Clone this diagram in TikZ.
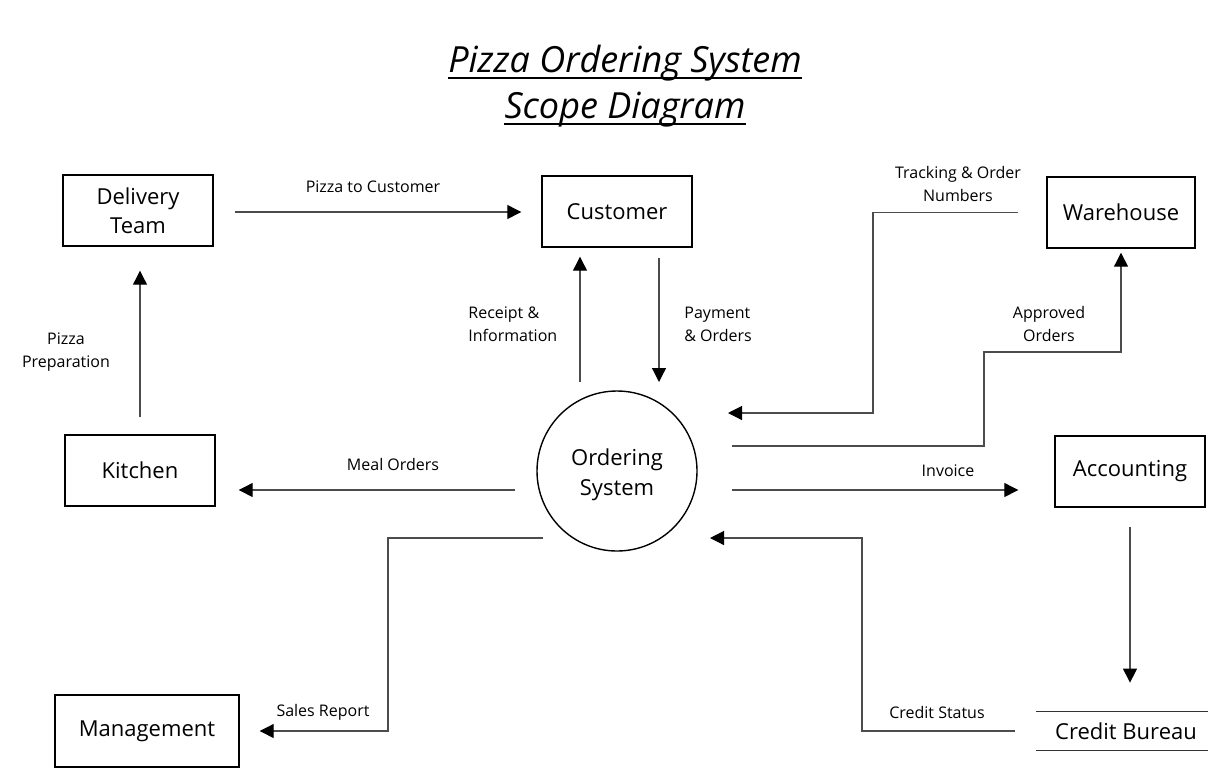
\documentclass[tikz,border=0pt]{standalone}
\usepackage{fontspec}
\setmainfont{Open Sans}
\usetikzlibrary{arrows.meta}
\begin{document}
\begin{tikzpicture}[x=0.5pt,y=-0.5pt,
 box/.style={draw=black,line width=0.7pt,minimum width=75pt,minimum height=35.5pt,inner sep=0pt,align=center,font=\fontsize{11}{14.5}\selectfont},
 flow/.style={draw=black!70,line width=0.6pt,-{Triangle[length=7pt,width=7pt,fill=black,color=black]}},
 lbl/.style={font=\fontsize{8}{11.5}\selectfont,inner sep=0pt},
 ttl/.style={font=\fontsize{18}{20}\selectfont\itshape,inner sep=0pt,anchor=base},
 uline/.style={line width=0.9pt,black}]
\useasboundingbox (0,0) rectangle (1219,777);
\node[ttl] (t1) at (625,72) {Pizza Ordering System};
\node[ttl] (t2) at (625,118) {Scope Diagram};
\draw[uline] ([yshift=-3pt]t1.base west) -- ([yshift=-3pt]t1.base east);
\draw[uline] ([yshift=-3pt]t2.base west) -- ([yshift=-3pt]t2.base east);

\node[box] (del) at (138,210.5) {Delivery\\Team};
\node[box] (cus) at (617,211.5) {Customer};
\node[box,minimum width=74pt] (wh) at (1121,212.5) {Warehouse};
\node[box] (kit) at (140,470.5) {Kitchen};
\node[draw=black,circle,line width=0.7pt,minimum size=80pt,inner sep=0pt] (ord) at (617,471) {};
\node[inner sep=0pt,align=center,font=\fontsize{11}{15}\selectfont] (ordtxt) at (617,475) {Ordering\\System};
\node[box] (acc) at (1130,471.5) {Accounting};
\node[box,minimum width=92pt,minimum height=36pt] (man) at (147,731) {Management};
\node[inner sep=0pt,minimum width=86pt,minimum height=19pt,font=\fontsize{11}{14.5}\selectfont] (cb) at (1122,731) {\hspace{4pt}Credit Bureau};
\draw[line width=0.7pt,black!80] (cb.north west) -- (cb.north east) (cb.south west) -- (cb.south east);

% connectors
\draw[flow,shorten <=10.5pt,shorten >=10pt] ([yshift=-0.75pt]del.east) -- ([yshift=-0.75pt]del.east -| cus.west);
\draw[flow,shorten <=8.5pt,shorten >=12pt] (kit.north) -- (kit.north |- del.south);
\coordinate (r0) at (580,382);
\draw[flow,shorten >=4.5pt] (r0) -- (r0 |- cus.south);
\coordinate (p1) at (659,382);
\draw[flow,shorten <=5pt] (p1 |- cus.south) -- (p1);
\coordinate (tk) at (728,413);
\draw[flow,shorten <=14pt] (wh.west) -| (873,413) -- (tk);
\coordinate (ap) at (732,446);
\draw[flow,shorten >=2pt] (ap) -- (984,446) -- (984,352) -| (wh.south);
\coordinate (iv) at (732,490);
\draw[flow,shorten >=18pt] (iv) -- (iv -| acc.west);
\coordinate (mo) at (515,490);
\draw[flow,shorten >=11.5pt] (mo) -- (mo -| kit.east);
\coordinate (sr) at (543,538);
\draw[flow,shorten >=10pt] (sr) -- (388,538) |- (man.east);
\draw[flow,shorten <=9.5pt,shorten >=14.5pt] (acc.south) -- (acc.south |- cb.north);
\coordinate (cs) at (710,538);
\draw[flow,shorten <=10.5pt] (cb.west) -| (862,538) -- (cs);

% labels
\node[lbl] (l1) at (373,187) {Pizza to Customer};
\node[lbl,align=center] (l2) at (66,352) {Pizza\\Preparation};
\node[lbl,align=left,anchor=west] (l3) at (468,324.5) {Receipt \&\\Information};
\node[lbl,align=left,anchor=west] (l4) at (684,324.5) {Payment\\\& Orders};
\node[lbl,align=center] (l5) at (958,183.5) {Tracking \& Order\\Numbers};
\node[lbl,align=center] (l6) at (1049,323.5) {Approved\\Orders};
\node[lbl] (l7) at (948,471) {Invoice};
\node[lbl] (l8) at (393,464) {Meal Orders};
\node[lbl] (l9) at (323,712) {Sales Report};
\node[lbl] (l10) at (937,712) {Credit Status};
\end{tikzpicture}
\end{document}
